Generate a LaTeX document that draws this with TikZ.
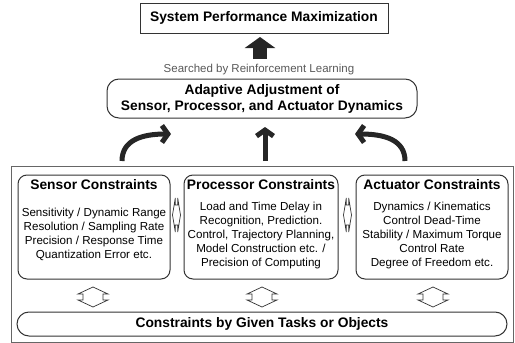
\documentclass[tikz,border=0pt]{standalone}
\usepackage{fontspec}
\setmainfont{Liberation Sans}
\usepackage{tikz}
\usetikzlibrary{arrows.meta,positioning,calc}

\begin{document}
\begin{tikzpicture}[x=1pt,y=-1pt,
	frame/.style={draw=black!80,line width=1pt},
	cbox/.style={frame,rounded corners=9pt,minimum height=104pt,inner sep=0pt},
	headtxt/.style={font=\fontsize{13.8}{16}\selectfont\bfseries},
	bodytxt/.style={font=\fontsize{11.6}{14}\selectfont,align=center,inner sep=0pt},
	bigarrow/.style={black!85,line width=5pt,-{Straight Barb[length=6pt,width=17pt]}},
	dblline/.style={draw=black!80,line width=0.7pt,line join=miter}]
				\useasboundingbox (0,0) rectangle (515,343);
				% top part
				\node[frame,headtxt,minimum width=248pt,minimum height=30pt] (sysperf) at (264,18) {System Performance Maximization};
				\coordinate (blkfrom) at (260,59);
				\coordinate (blkto) at (260,37);
				\draw[black!85,line width=14pt,-{Triangle[length=11pt,width=30pt]}] (blkfrom) -- (blkto);
				\node[text=black!65,font=\fontsize{11.5}{14}\selectfont] (searched) at (259,70) {Searched by Reinforcement Learning};
				\node[frame,headtxt,rounded corners=12pt,minimum width=310pt,minimum height=39pt,align=center] (adaptive) at (262,98.5) {Adaptive Adjustment of\\Sensor, Processor, and Actuator Dynamics};
				% curved arrows
				\coordinate (sensup) at (122,161);
				\coordinate (sensend) at (171,134);
				\coordinate (procup) at (265,161);
				\coordinate (procend) at (265,127);
				\coordinate (actup) at (405,161);
				\coordinate (actend) at (355,134);
				\draw[bigarrow] (sensup) .. controls (122,140) and (142,134) .. (sensend);
				\draw[bigarrow] (procup) -- (procend);
				\draw[bigarrow] (actup) .. controls (405,140) and (385,134) .. (actend);
				% constraints frame
				\node[draw=black!60,line width=1pt,minimum width=502pt,minimum height=176pt,inner sep=0pt] (allframe) at (262,254) {};
				\node[cbox,minimum width=152pt] (sensor) at (94,227) {};
				\node[cbox,minimum width=154pt] (processor) at (261,227) {};
				\node[cbox,minimum width=152pt] (actuator) at (432,227) {};
				\node[headtxt] (sensorhd) at (94,185) {Sensor Constraints};
				\node[headtxt] (processorhd) at (261,185) {Processor Constraints};
				\node[headtxt] (actuatorhd) at (432,185) {Actuator Constraints};
				\node[bodytxt] (sensortx) at (94,234) {Sensitivity / Dynamic Range\\Resolution / Sampling Rate\\Precision / Response Time\\Quantization Error etc.};
				\node[bodytxt] (processortx) at (261,235) {Load and Time Delay in\\Recognition, Prediction.\\Control, Trajectory Planning,\\Model Construction etc. /\\Precision of Computing};
				\node[bodytxt] (actuatortx) at (432,235.5) {Dynamics / Kinematics\\Control Dead-Time\\Stability / Maximum Torque\\Control Rate\\Degree of Freedom etc.};
				% double arrows
				\coordinate (sp) at (176.5,215);
				\coordinate (pa) at (347.5,215);
				\coordinate (sg) at (93,297);
				\coordinate (pg) at (262,297);
				\coordinate (ag) at (433,297);
				\foreach \c in {sp,pa}
					\draw[dblline] ($(\c)+(-4,0)$) -- ++(2.8,-17) -- ++(0,7) -- ++(2.4,0) -- ++(0,-7) -- ++(2.8,17) -- ++(-2.8,17) -- ++(0,-7) -- ++(-2.4,0) -- ++(0,7) -- cycle;
				\foreach \c in {sg,pg,ag}
					\draw[dblline] ($(\c)+(0,-10)$) -- ++(15,7) -- ++(-5,0) -- ++(0,6) -- ++(5,0) -- ++(-15,7) -- ++(-15,-7) -- ++(5,0) -- ++(0,-6) -- ++(-5,0) -- cycle;
				\node[frame,headtxt,rounded corners=12pt,minimum width=490pt,minimum height=24pt,inner sep=0pt] (given) at (262,324) {Constraints by Given Tasks or Objects};
\end{tikzpicture}
\end{document}
